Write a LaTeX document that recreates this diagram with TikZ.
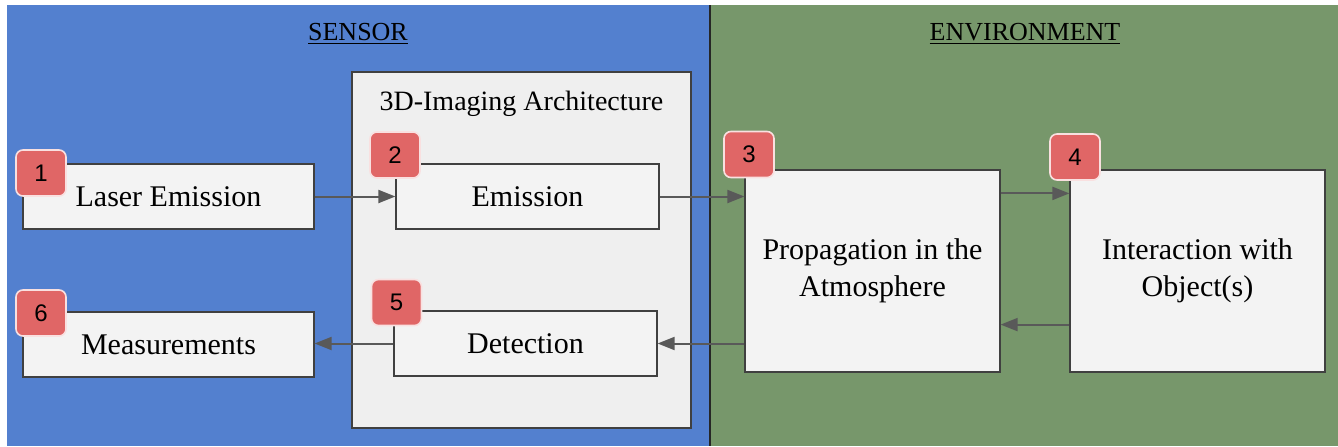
\documentclass[tikz,border=0pt]{standalone}
\usepackage{fontspec}
\setmainfont{Liberation Serif}
\newfontfamily\badgefont{Liberation Sans}
\usepackage{xcolor}
\usetikzlibrary{arrows.meta,positioning}
\definecolor{sensorblue}{HTML}{5380CF}
\definecolor{envgreen}{HTML}{77976B}
\definecolor{boxgray}{HTML}{F3F3F3}
\definecolor{archgray}{HTML}{EFEFEF}
\definecolor{badgered}{HTML}{E06666}
\definecolor{arrowgray}{HTML}{595959}
\definecolor{edgegray}{HTML}{404040}
\tikzset{
  stage/.style={draw=edgegray, line width=0.6pt, fill=boxgray, inner sep=2pt,
    align=center, font=\fontsize{15}{18.5}\selectfont},
  badge/.style={draw=white!80!badgered, line width=0.8pt, fill=badgered,
    rounded corners=3.5pt, minimum width=25pt, minimum height=23pt,
    inner sep=0pt, font=\badgefont\fontsize{12}{14}\selectfont},
  flow/.style={draw=arrowgray, line width=1pt, -{Triangle[length=8.5pt,width=6.5pt]}},
  heading/.style={font=\fontsize{13}{15}\selectfont}
}
\begin{document}
\begin{tikzpicture}[x=0.5pt,y=-0.5pt]
\useasboundingbox (0,0) rectangle (1338,446);
% the two halves
\fill[sensorblue] (7,5) rectangle (710,446);
\fill[envgreen] (710,5) rectangle (1338,446);
\draw[black!85, line width=1pt] (710,5) -- (710,446);
\node[heading] (sensor) at (358,34) {\underline{SENSOR}};
\node[heading] (environment) at (1025,34) {\underline{ENVIRONMENT}};
% 3D-imaging architecture
\node[draw=edgegray, line width=0.6pt, fill=archgray, minimum width=169.5pt,
  minimum height=178pt] (arch) at (521.5,250) {};
\node[font=\fontsize{14}{17}\selectfont] (archtitle) at (521.5,104) {3D-Imaging Architecture};
% stages
\node[stage, minimum width=145.5pt, minimum height=32.5pt] (laser) at (168.5,196.5) {Laser Emission};
\node[stage, minimum width=131.5pt, minimum height=32.5pt] (emis) at (527.5,196.5) {Emission};
\node[stage, minimum width=131.5pt, minimum height=32.5pt] (det) at (525.5,343.5) {Detection};
\node[stage, minimum width=145.5pt, minimum height=32.5pt] (meas) at (168.5,344.5) {Measurements};
\node[stage, minimum width=127.5pt, minimum height=101pt] (prop) at (872.5,271) {Propagation in the\\Atmosphere};
\node[stage, minimum width=127.5pt, minimum height=101pt] (inter) at (1197.5,271) {Interaction with\\Object(s)};
% connectors
\draw[flow] (laser) -- (emis);
\draw[flow] (emis.east) -- (emis.east -| prop.west);
\draw[flow] ([yshift=-12pt]prop.north east) -- ([yshift=-12pt]prop.north east -| inter.west);
\draw[flow] ([yshift=24pt]inter.south west) -- ([yshift=24pt]inter.south west -| prop.east);
\draw[flow] (det.east -| prop.west) -- (det.east);
\draw[flow] (det.west) -- (det.west -| meas.east);
% step numbers
\node[badge] (b1) at (41,173) {1};
\node[badge] (b2) at (395,155) {2};
\node[badge] (b3) at (749,154.5) {3};
\node[badge] (b4) at (1075,157) {4};
\node[badge] (b5) at (396.5,302.5) {5};
\node[badge] (b6) at (41,313) {6};
\end{tikzpicture}
\end{document}
